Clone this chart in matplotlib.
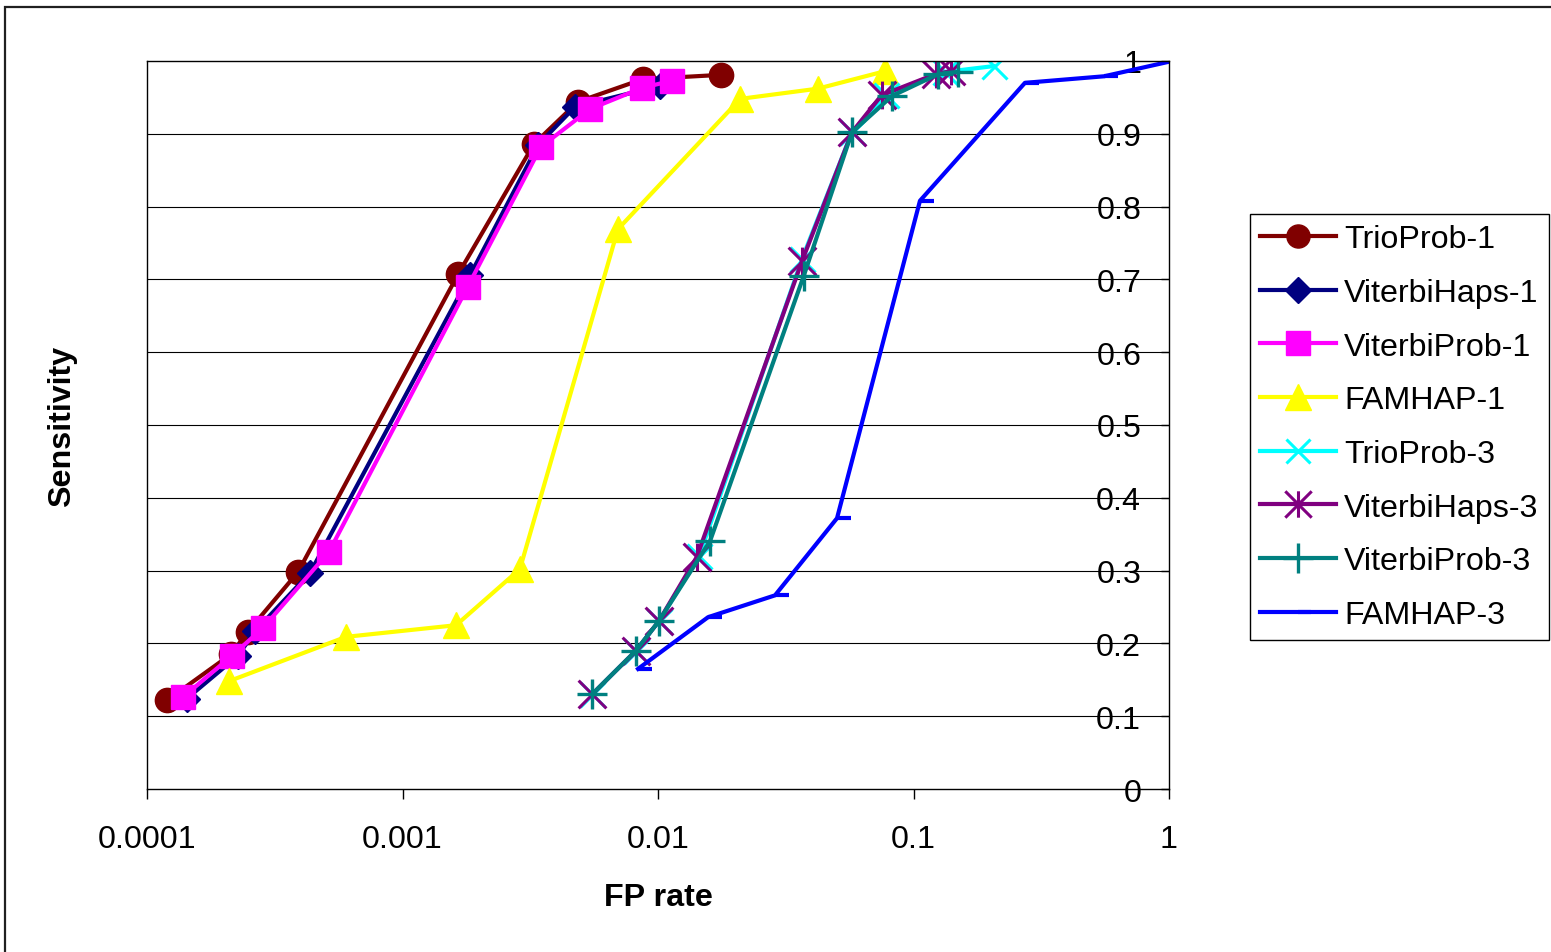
import matplotlib
matplotlib.use("Agg")
import matplotlib.pyplot as plt
from matplotlib.path import Path
from matplotlib.patches import Rectangle
from matplotlib.ticker import FixedLocator, NullLocator

plt.rcParams['font.family'] = ['Liberation Sans', 'DejaVu Sans']

# --- data ---
trio1_x = [1.20e-4, 2.13e-4, 2.48e-4, 3.90e-4, 1.65e-3, 3.27e-3, 4.86e-3, 8.70e-3, 0.0177]
trio1_y = [0.122, 0.185, 0.216, 0.298, 0.707, 0.886, 0.944, 0.975, 0.981]

vhaps1_x = [1.43e-4, 2.27e-4, 2.65e-4, 4.35e-4, 1.84e-3, 3.40e-3, 4.73e-3, 0.0102]
vhaps1_y = [0.124, 0.183, 0.217, 0.297, 0.706, 0.885, 0.937, 0.966]

vprob1_x = [1.38e-4, 2.15e-4, 2.84e-4, 5.16e-4, 1.80e-3, 3.48e-3, 5.42e-3, 8.65e-3, 0.01135]
vprob1_y = [0.126, 0.183, 0.221, 0.326, 0.690, 0.882, 0.934, 0.963, 0.973]

famhap1_x = [2.09e-4, 6.01e-4, 1.62e-3, 2.88e-3, 6.97e-3, 0.0210, 0.0422, 0.0773]
famhap1_y = [0.148, 0.209, 0.225, 0.302, 0.769, 0.948, 0.962, 0.986]

trio3_x = [5.52e-3, 8.20e-3, 0.0101, 0.0145, 0.0366, 0.0574, 0.0780, 0.133, 0.206]
trio3_y = [0.130, 0.190, 0.231, 0.320, 0.728, 0.902, 0.953, 0.985, 0.993]

vhaps3_x = [5.52e-3, 8.20e-3, 0.0101, 0.0142, 0.0366, 0.0574, 0.0750, 0.122, 0.140]
vhaps3_y = [0.130, 0.190, 0.231, 0.319, 0.725, 0.902, 0.953, 0.982, 0.986]

vprob3_x = [5.52e-3, 8.20e-3, 0.0101, 0.0160, 0.0372, 0.0574, 0.0824, 0.125, 0.149]
vprob3_y = [0.130, 0.190, 0.231, 0.341, 0.705, 0.902, 0.952, 0.982, 0.985]

famhap3_x = [8.35e-3, 0.0157, 0.0287, 0.0502, 0.106, 0.273, 0.557, 1.0]
famhap3_y = [0.165, 0.236, 0.266, 0.372, 0.808, 0.970, 0.979, 0.999]

x_ticks = [0.0001, 0.001, 0.01, 0.1, 1]
x_ticklabels = ['0.0001', '0.001', '0.01', '0.1', '1']
y_ticks = [0, 0.1, 0.2, 0.3, 0.4, 0.5, 0.6, 0.7, 0.8, 0.9, 1]
y_ticklabels = ['0', '0.1', '0.2', '0.3', '0.4', '0.5', '0.6', '0.7', '0.8', '0.9', '1']

# excel-ish markers
asterisk = Path([(-1, -1), (1, 1), (-1, 1), (1, -1), (0, -1), (0, 1)],
                [Path.MOVETO, Path.LINETO, Path.MOVETO, Path.LINETO, Path.MOVETO, Path.LINETO])
dash = Path([(0, 0), (1, 0)], [Path.MOVETO, Path.LINETO])

fs = 23.2

fig = plt.figure(figsize=(15.51, 9.53), dpi=100)
# outer chart border (cut off on right / bottom)
fig.add_artist(Rectangle((5 / 1551, -0.05), 1.1, 1 - 8 / 953 + 0.05, transform=fig.transFigure,
                         fill=False, edgecolor='#202020', linewidth=1.6, clip_on=False))

ax = fig.add_axes([147 / 1551, 1 - 790 / 953, 1022 / 1551, 728 / 953])

lw = 3.0
ax.plot(trio1_x, trio1_y, color='#800000', lw=lw, marker='o', ms=17.5, label='TrioProb-1')
ax.plot(vhaps1_x, vhaps1_y, color='#000080', lw=lw, marker='D', ms=13.5, label='ViterbiHaps-1')
ax.plot(vprob1_x, vprob1_y, color='#FF00FF', lw=lw, marker='s', ms=17.5, label='ViterbiProb-1')
ax.plot(famhap1_x, famhap1_y, color='#FFFF00', lw=lw, marker='^', ms=19, label='FAMHAP-1')
ax.plot(trio3_x, trio3_y, color='#00FFFF', lw=lw, marker='x', ms=18, mew=2.2, label='TrioProb-3')
ax.plot(vhaps3_x, vhaps3_y, color='#800080', lw=lw, marker=asterisk, ms=20, mew=2.2, label='ViterbiHaps-3')
ax.plot(vprob3_x, vprob3_y, color='#008080', lw=lw, marker='+', ms=22, mew=2.4, label='ViterbiProb-3')
ax.plot(famhap3_x, famhap3_y, color='#0000FF', lw=lw, marker=dash, ms=20, mew=3, label='FAMHAP-3')

ax.set_xscale('log')
ax.set_xlim(0.0001, 1)
ax.set_ylim(0, 1)
ax.xaxis.set_major_locator(FixedLocator(x_ticks))
ax.xaxis.set_minor_locator(NullLocator())
ax.set_xticklabels(x_ticklabels)
ax.yaxis.set_major_locator(FixedLocator(y_ticks))
ax.set_yticklabels(y_ticklabels)

for yv in y_ticks[1:-1]:
    ax.axhline(yv, color='black', lw=0.8, zorder=0.5)

for s in ax.spines.values():
    s.set_color('black')
    s.set_linewidth(1.0)

ax.tick_params(axis='x', direction='out', length=7, width=1, labelsize=fs, pad=18)
# y axis sits at x=1 with labels on its left
ax.tick_params(axis='y', left=False, labelleft=False, right=True, labelright=True,
               direction='in', length=6, width=1, labelsize=fs, pad=-20)
for t in ax.yaxis.get_major_ticks():
    t.label2.set_horizontalalignment('right')

ax.set_xlabel('FP rate', fontsize=fs, fontweight='bold')
ax.xaxis.set_label_coords(0.5, (790 - 898) / 728)
ax.xaxis.label.set_va('center')
ax.set_ylabel('Sensitivity', fontsize=fs, fontweight='bold')
ax.yaxis.set_label_position('left')
ax.yaxis.set_label_coords((62 - 147) / 1022, 0.5)
ax.yaxis.label.set_va('center')

leg = ax.legend(loc='upper left', bbox_to_anchor=(1250 / 1551, 1 - 215 / 953),
                bbox_transform=fig.transFigure, fontsize=fs, frameon=True, fancybox=False,
                edgecolor='black', framealpha=1, handlelength=2.35, handletextpad=0.25,
                labelspacing=0.735, borderpad=0.32, borderaxespad=0, markerscale=0.95)
leg.get_frame().set_linewidth(1.0)

fig.savefig('out.png', dpi=100)
